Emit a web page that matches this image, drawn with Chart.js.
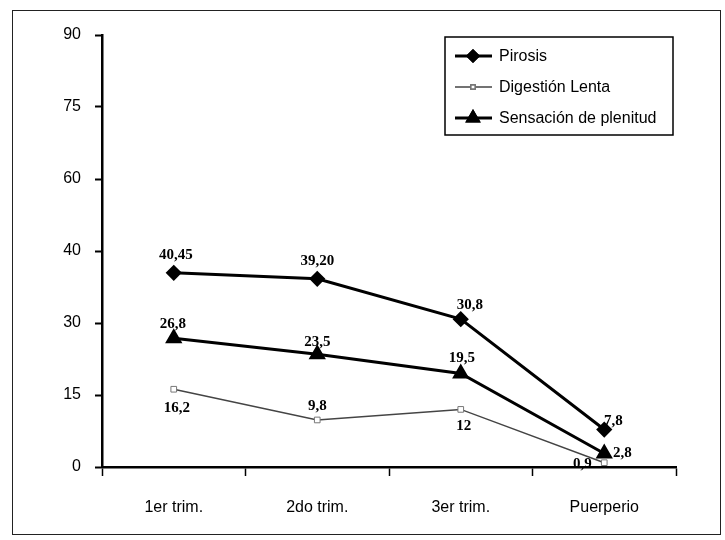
<!DOCTYPE html>
<html>
<head>
<meta charset="utf-8">
<script src="https://cdn.jsdelivr.net/npm/chart.js@4"></script>
<style>
  body { margin: 0; background: #fff; }
  #wrap { position: relative; width: 725px; height: 540px; }
  #frame { position: absolute; left: 12px; top: 10px; width: 707px; height: 523px; border: 1.5px solid #222; }
  canvas { position: absolute; left: 0; top: 0; }
</style>
</head>
<body>
<div id="wrap">
  <div id="frame"></div>
  <canvas id="graph" width="725" height="540"></canvas>
</div>
<script>
"use strict";

const categories = ["1er trim.", "2do trim.", "3er trim.", "Puerperio"];
const pirosis = [40.45, 39.2, 30.8, 7.8];
const digestion = [16.2, 9.8, 12, 0.9];
const sensacion = [26.8, 23.5, 19.5, 2.8];
const pirosisLabels = ["40,45", "39,20", "30,8", "7,8"];
const digestionLabels = ["16,2", "9,8", "12", "0,9"];
const sensacionLabels = ["26,8", "23,5", "19,5", "2,8"];
const yTickValues = [0, 15, 30, 45, 60, 75, 90];
const yTickLabels = ["0", "15", "30", "40", "60", "75", "90"];

document.addEventListener("DOMContentLoaded", () => {
  const ctx = document.getElementById("graph").getContext("2d");
  const tickFont = { family: "'Liberation Sans', Arial, sans-serif", size: 16 };

  // value labels next to each point
  const pointLabels = {
    id: "pointLabels",
    afterDatasetsDraw(chart) {
      const c = chart.ctx;
      c.save();
      c.font = "bold 15px 'Liberation Serif', 'Times New Roman', serif";
      c.fillStyle = "#000";
      c.textAlign = "center";
      c.textBaseline = "middle";
      chart.data.datasets.forEach((ds, di) => {
        const meta = chart.getDatasetMeta(di);
        meta.data.forEach((pt, i) => {
          const [dx, dy] = ds.labelOffsets[i];
          c.fillText(ds.valueLabels[i], pt.x + dx, pt.y + dy);
        });
      });
      c.restore();
    },
  };

  // boxed legend in the top right corner
  const boxLegend = {
    id: "boxLegend",
    afterDraw(chart) {
      const c = chart.ctx;
      const bx = 445, by = 37, bw = 228, bh = 98;
      c.save();
      c.fillStyle = "#fff";
      c.fillRect(bx, by, bw, bh);
      c.strokeStyle = "#000";
      c.lineWidth = 1.5;
      c.strokeRect(bx, by, bw, bh);
      c.font = "16px 'Liberation Sans', Arial, sans-serif";
      c.textBaseline = "middle";
      c.textAlign = "left";
      const rows = [56, 87, 118];
      chart.data.datasets.forEach((ds, di) => {
        const y = rows[di];
        c.strokeStyle = ds.borderColor;
        c.lineWidth = ds.borderWidth;
        c.beginPath();
        c.moveTo(455, y);
        c.lineTo(492, y);
        c.stroke();
        Chart.helpers.drawPoint(c, {
          pointStyle: ds.pointStyle,
          radius: ds.pointRadius - 1,
          borderWidth: 1,
        }, 473, y);
        c.fillStyle = ds.pointBackgroundColor;
        c.strokeStyle = ds.pointBorderColor;
        c.fill();
        c.stroke();
        c.fillStyle = "#000";
        c.fillText(ds.label, 499, y + 1);
      });
      c.restore();
    },
  };

  new Chart(ctx, {
    type: "line",
    data: {
      labels: categories,
      datasets: [
        {
          label: "Pirosis",
          data: pirosis,
          valueLabels: pirosisLabels,
          labelOffsets: [[2, -18], [0, -18], [9, -14], [9, -8]],
          borderColor: "#000",
          borderWidth: 3,
          pointStyle: "rectRot",
          pointRadius: 6,
          pointBackgroundColor: "#000",
          pointBorderColor: "#000",
          tension: 0,
        },
        {
          label: "Digestión Lenta",
          data: digestion,
          valueLabels: digestionLabels,
          labelOffsets: [[3, 19], [0, -14], [3, 17], [-22, 1]],
          borderColor: "#444",
          borderWidth: 1.5,
          pointStyle: "rect",
          pointRadius: 4,
          pointBackgroundColor: "#fff",
          pointBorderColor: "#777",
          pointBorderWidth: 1,
          tension: 0,
        },
        {
          label: "Sensación de plenitud",
          data: sensacion,
          valueLabels: sensacionLabels,
          labelOffsets: [[-1, -14], [0, -12], [1, -15], [18, 0]],
          borderColor: "#000",
          borderWidth: 3,
          pointStyle: "triangle",
          pointRadius: 7,
          pointBackgroundColor: "#000",
          pointBorderColor: "#000",
          tension: 0,
        },
      ],
    },
    options: {
      responsive: false,
      animation: false,
      layout: { padding: { left: 0, right: 49, top: 35, bottom: 0 } },
      plugins: {
        legend: { display: false },
        tooltip: { enabled: false },
      },
      scales: {
        x: {
          offset: true,
          grid: {
            offset: true,
            drawOnChartArea: false,
            drawTicks: true,
            tickLength: 9,
            tickWidth: 1.5,
            tickColor: "#000",
          },
          border: { display: true, color: "#000", width: 2.5 },
          ticks: { color: "#000", font: tickFont, padding: 22 },
          afterFit(scale) { scale.height = 73; },
        },
        y: {
          min: 0,
          max: 90,
          afterBuildTicks(scale) {
            scale.ticks = yTickValues.map((v) => ({ value: v }));
          },
          grid: {
            drawOnChartArea: false,
            drawTicks: true,
            tickLength: 7,
            tickWidth: 2,
            tickColor: "#000",
          },
          border: { display: true, color: "#000", width: 2.5 },
          ticks: {
            color: "#000",
            font: tickFont,
            padding: 14,
            callback(value) {
              const i = yTickValues.indexOf(value);
              return i >= 0 ? yTickLabels[i] : "";
            },
          },
          afterFit(scale) { scale.width = 102; },
        },
      },
    },
    plugins: [pointLabels, boxLegend],
  });
});
</script>
</body>
</html>
